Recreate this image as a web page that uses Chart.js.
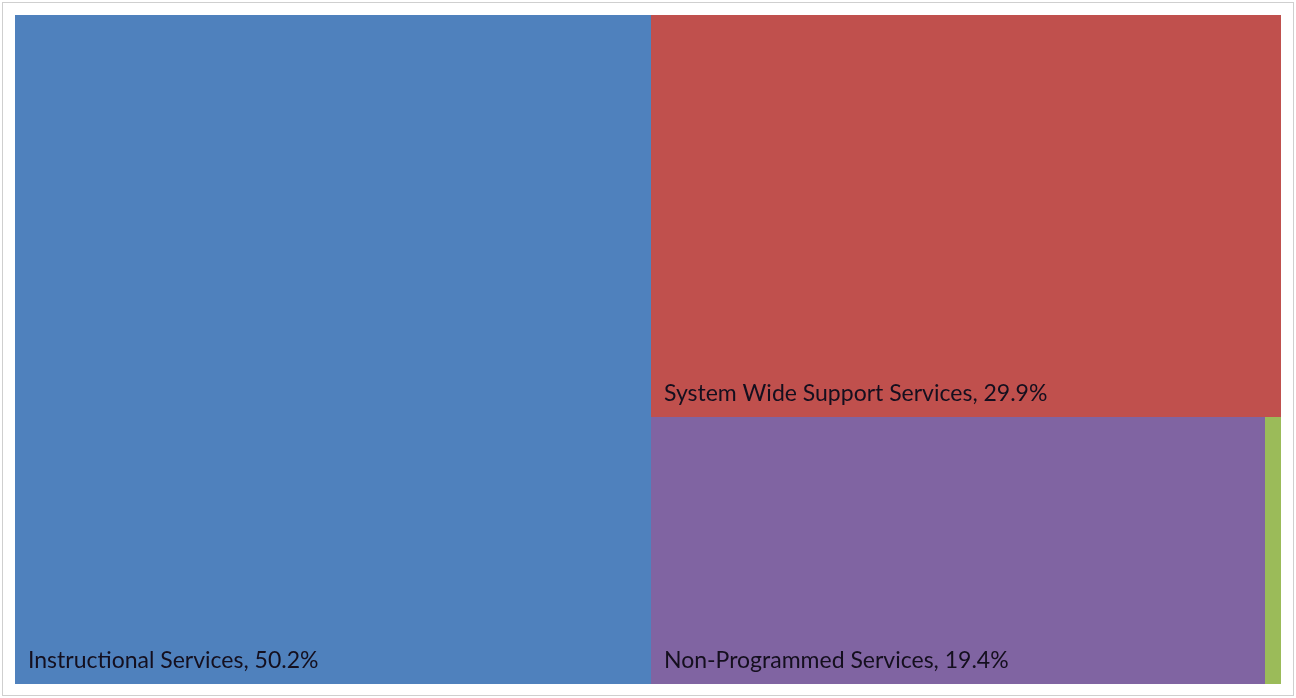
<!DOCTYPE html>
<html>
<head>
<meta charset="utf-8">
<script src="https://cdn.jsdelivr.net/npm/chart.js@4/dist/chart.umd.min.js"></script>
<style>
  html, body { margin: 0; padding: 0; background: #fff; }
  #wrap { position: relative; width: 1296px; height: 698px; }
  #frame { position: absolute; left: 2px; top: 2px; width: 1290px; height: 692px; border: 1px solid #cfcfcf; pointer-events: none; }
</style>
</head>
<body>
<div id="wrap">
  <canvas id="tree"></canvas>
  <div id="frame"></div>
</div>
<script>
// budget categories and their share (%)
const categories = ['Instructional Services', 'System Wide Support Services', 'Non-Programmed Services', 'Other'];
const shares = [50.2, 29.9, 19.4, 0.5];
const colors = ['#4F81BD', '#C0504D', '#8064A2', '#9BBB59'];

// squarified treemap layout, done in pixel-proportional units (W x H)
function squarify(values, W, H) {
    const total = values.reduce((a, b) => a + b, 0);
    const items = values.map((v, i) => ({ i: i, area: v / total * W * H }));
    const out = [];
    let r = { x: 0, y: 0, w: W, h: H };

    const worst = (row, side) => {
        const s = row.reduce((a, b) => a + b.area, 0);
        const thick = s / side;
        let m = 0;
        row.forEach((it) => {
            const len = it.area / thick;
            m = Math.max(m, len / thick, thick / len);
        });
        return m;
    };

    let idx = 0;
    while (idx < items.length) {
        const vertical = r.w >= r.h; // stack the row down the shorter side (height)
        const side = vertical ? r.h : r.w;
        let row = [items[idx]];
        let j = idx + 1;
        while (j < items.length) {
            const next = row.concat([items[j]]);
            if (worst(next, side) <= worst(row, side)) { row = next; j++; } else break;
        }
        const s = row.reduce((a, b) => a + b.area, 0);
        if (vertical) {
            const w = s / r.h;
            let y = r.y;
            row.forEach((it) => {
                const h = it.area / w;
                out[it.i] = { x: r.x, y: y, w: w, h: h };
                y += h;
            });
            r = { x: r.x + w, y: r.y, w: r.w - w, h: r.h };
        } else {
            const h = s / r.w;
            let x = r.x;
            row.forEach((it) => {
                const w = it.area / h;
                out[it.i] = { x: x, y: r.y, w: w, h: h };
                x += w;
            });
            r = { x: r.x, y: r.y + h, w: r.w, h: r.h - h };
        }
        idx = j;
    }
    // back to data units 0..100 (y measured from top)
    return out.map((c) => ({ x: c.x / W * 100, y: c.y / H * 100, w: c.w / W * 100, h: c.h / H * 100 }));
}

const treemapPlugin = {
    id: 'treemap',
    beforeDatasetsDraw(chart) {
        const { ctx, chartArea } = chart;
        const xs = chart.scales.x, ys = chart.scales.y;
        const cells = squarify(shares, chartArea.right - chartArea.left, chartArea.bottom - chartArea.top);
        const boxes = cells.map((c) => ({
            x0: Math.round(xs.getPixelForValue(c.x)),
            x1: Math.round(xs.getPixelForValue(c.x + c.w)),
            y0: Math.round(ys.getPixelForValue(100 - c.y)),
            y1: Math.round(ys.getPixelForValue(100 - c.y - c.h))
        }));
        ctx.save();
        boxes.forEach((b, i) => {
            ctx.fillStyle = colors[i];
            ctx.fillRect(b.x0, b.y0, b.x1 - b.x0, b.y1 - b.y0);
        });
        ctx.font = '23px Lato, "Open Sans", sans-serif';
        ctx.fillStyle = '#140f1e';
        ctx.textBaseline = 'alphabetic';
        boxes.forEach((b, i) => {
            const text = categories[i] + ', ' + shares[i].toFixed(1) + '%';
            if (ctx.measureText(text).width + 26 < b.x1 - b.x0) {
                ctx.fillText(text, b.x0 + 13, b.y1 - 16);
            }
        });
        ctx.restore();
    }
};

new Chart(document.getElementById('tree'), {
    type: 'scatter',
    data: { datasets: [{ data: [] }] },
    plugins: [treemapPlugin],
    options: {
        responsive: true,
        maintainAspectRatio: false,
        animation: false,
        layout: { padding: { left: 15, right: 15, top: 15, bottom: 14 } },
        scales: {
            x: { type: 'linear', min: 0, max: 100, display: false },
            y: { type: 'linear', min: 0, max: 100, display: false }
        },
        plugins: { legend: { display: false }, tooltip: { enabled: false } }
    }
});
</script>
</body>
</html>
